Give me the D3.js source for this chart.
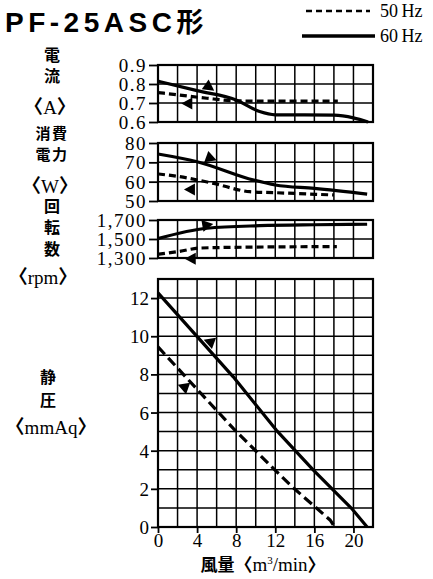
<!DOCTYPE html>
<html><head><meta charset="utf-8">
<script src="https://cdn.jsdelivr.net/npm/d3@7"></script>
<style>
body{margin:0;background:#fff;}
svg{display:block;}
.num{font-family:"Liberation Serif","DejaVu Serif",serif;fill:#000;}
.jp{font-family:"Noto Sans CJK JP",sans-serif;font-weight:700;fill:#000;}
</style></head>
<body>
<script>
// ---------- data ----------
const xTicks = [0,4,8,12,16,20];
const currentTicks = [0.9,0.8,0.7,0.6];
const currentTickLabels = ["0.9","0.8","0.7","0.6"];
const powerTicks = [80,70,60,50];
const rpmTicks = [1700,1500,1300];
const rpmTickLabels = ["1,700","1,500","1,300"];
const pressureTicks = [0,2,4,6,8,10,12];

const current60 = [[0,0.815],[4,0.765],[8,0.716],[10.4,0.655],[12,0.638],[18,0.636],[20,0.622],[21.5,0.6]];
const current50 = [[0,0.755],[2.2,0.742],[5,0.725],[7.7,0.712],[10,0.71],[18.4,0.71]];
const power60 = [[0,74.3],[4,70.3],[9.8,60.8],[12,58.3],[16,56.5],[21.4,53.6]];
const power50 = [[0,64],[2.2,62.6],[5.7,59.1],[9.4,54.8],[12,54.3],[18,53.1]];
const rpm60 = [[0,1505],[5,1613],[10.4,1640],[16,1650],[21.4,1655]];
const rpm50 = [[0,1340],[2.2,1370],[4.3,1405],[10,1415],[18.3,1420]];
const pressure60 = [[0,12.27],[7.7,7.87],[12.1,5.08],[15.9,2.98],[19.8,0.98],[21.4,0]];
const pressure50 = [[0,9.44],[7.7,5.17],[11.8,3.07],[13.9,2.03],[17.6,0.37],[18.1,0]];

// direction markers [x, y, angle in degrees (0 = pointing right)]
const currentArrows = [[5.25,0.783,35],[3.0,0.698,180]];
const powerArrows = [[5.42,72.1,20],[3.27,56.0,180]];
const rpmArrows = [[5.05,1648,-10],[3.35,1293,180]];
const pressureArrows = [[5.25,9.71,200],[2.6,7.35,200]];

// ---------- drawing ----------
const W = 433, H = 579;
const svg = d3.select("body").append("svg").attr("width",W).attr("height",H);

const x = d3.scaleLinear().domain([0,22]).range([158,373]);

const panels = [
  {y:d3.scaleLinear().domain([0.6,0.9]).range([122,65]), ticks:currentTicks, labels:currentTickLabels, grid:[0.7,0.8], s60:current60, s50:current50, arrows:currentArrows, dash:"7,4"},
  {y:d3.scaleLinear().domain([50,80]).range([201,143]), ticks:powerTicks, labels:powerTicks.map(String), grid:[60,70], s60:power60, s50:power50, arrows:powerArrows, dash:"7,4"},
  {y:d3.scaleLinear().domain([1300,1700]).range([258,220]), ticks:rpmTicks, labels:rpmTickLabels, grid:[1500], s60:rpm60, s50:rpm50, arrows:rpmArrows, dash:"7,4"},
  {y:d3.scaleLinear().domain([0,13]).range([527,279]), ticks:pressureTicks, labels:pressureTicks.map(String), grid:d3.range(1,13), s60:pressure60, s50:pressure50, arrows:pressureArrows, dash:"10,5", bottom:true}
];

const vGrid = d3.range(2,22,2);

panels.forEach(p=>{
  const g = svg.append("g");
  const [y0,y1] = p.y.range();
  g.selectAll(".vg").data(vGrid).join("line")
    .attr("x1",d=>x(d)).attr("x2",d=>x(d)).attr("y1",y1).attr("y2",y0)
    .attr("stroke","#000").attr("stroke-width",1.5);
  g.selectAll(".hg").data(p.grid).join("line")
    .attr("x1",x(0)).attr("x2",x(22)).attr("y1",d=>p.y(d)).attr("y2",d=>p.y(d))
    .attr("stroke","#000").attr("stroke-width",1.5);
  g.append("rect").attr("x",x(0)).attr("y",y1).attr("width",x(22)-x(0)).attr("height",y0-y1)
    .attr("fill","none").attr("stroke","#000").attr("stroke-width",2.2);
  const ax = d3.axisLeft(p.y).tickValues(p.ticks).tickFormat((d,i)=>p.labels[i]).tickSize(p.bottom?7:9).tickPadding(2);
  const ag = g.append("g").attr("transform",`translate(${x(0)},0)`).call(ax);
  ag.select(".domain").remove();
  ag.selectAll(".tick line").attr("stroke","#000").attr("stroke-width",1.8);
  ag.selectAll(".tick text").attr("class","num").attr("font-size",19).attr("letter-spacing",p.bottom?0:1.5)
    .attr("dy","0.34em").attr("fill","#000");
  const line = d3.line().x(d=>x(d[0])).y(d=>p.y(d[1])).curve(p.bottom?d3.curveLinear:d3.curveMonotoneX);
  g.append("path").attr("d",line(p.s60)).attr("fill","none").attr("stroke","#000").attr("stroke-width",3.2).attr("stroke-linejoin","round");
  g.append("path").attr("d",line(p.s50)).attr("fill","none").attr("stroke","#000").attr("stroke-width",3.2).attr("stroke-dasharray",p.dash);
  g.selectAll(".ar").data(p.arrows).join("path")
    .attr("d","M6,0 L-5,-6 L-5,6 Z")
    .attr("transform",d=>`translate(${x(d[0])},${p.y(d[1])}) rotate(${d[2]})`)
    .attr("fill","#000");
  if(p.bottom){
    const xa = d3.axisBottom(x).tickValues(xTicks).tickSize(6).tickPadding(1);
    const xg = g.append("g").attr("transform",`translate(0,${y0})`).call(xa);
    xg.select(".domain").remove();
    xg.selectAll(".tick line").attr("stroke","#000").attr("stroke-width",1.8);
    xg.selectAll(".tick text").attr("class","num").attr("font-size",19).attr("fill","#000");
  }
});

// helper: text with CJK brackets drawn in the CJK font
function addRuns(textSel, str, numSize, jpSize){
  const runs = [];
  for(const ch of str){
    const jp = /[〈〉\u3040-\u9fff]/.test(ch);
    const last = runs[runs.length-1];
    if(last && last.jp===jp) last.t += ch; else runs.push({jp, t:ch});
  }
  runs.forEach(r=>{
    textSel.append("tspan").attr("class",r.jp?"jp":"num").attr("font-size",r.jp?jpSize:numSize)
      .attr("font-weight",r.jp?(/[〈〉]/.test(r.t)?400:700):null).text(r.t);
  });
}

// x-axis title
const xt = svg.append("text").attr("x",263).attr("y",571).attr("text-anchor","middle");
xt.append("tspan").attr("class","jp").attr("font-size",17).text("風量");
xt.append("tspan").attr("class","jp").attr("font-weight",400).attr("font-size",18).text("〈");
xt.append("tspan").attr("class","num").attr("font-size",19).text("m");
xt.append("tspan").attr("class","num").attr("font-size",11).attr("dy",-7).text("3");
xt.append("tspan").attr("class","num").attr("font-size",19).attr("dy",7).text("/min");
xt.append("tspan").attr("class","jp").attr("font-weight",400).attr("font-size",18).text("〉");

// left labels: vertical stacks
const verticalLabels = [["電流",52,67.5,5],["回転数",52,230,5.5],["静圧",48,391.5,7]];
verticalLabels.forEach(([t,xx,yy,ls])=>{
  svg.append("text").attr("class","jp").attr("x",xx).attr("y",yy)
    .attr("writing-mode","vertical-rl").attr("text-anchor","middle")
    .attr("font-size",16).attr("letter-spacing",ls).text(t);
});
// horizontal rows and unit labels
const rowLabels = [["消費",52,134],["電力",52,155]];
rowLabels.forEach(([t,xx,yy])=>{
  svg.append("text").attr("class","jp").attr("x",xx).attr("y",yy).attr("dy","0.36em")
    .attr("text-anchor","middle").attr("font-size",15).attr("letter-spacing",1.5).text(t);
});
const unitLabels = [["〈A〉",50,108],["〈W〉",50,187],["〈rpm〉",43,278],["〈mmAq〉",51,428]];
unitLabels.forEach(([t,xx,yy])=>{
  const te = svg.append("text").attr("x",xx).attr("y",yy).attr("dy","0.36em").attr("text-anchor","middle");
  addRuns(te,t,19,19);
});

// title
const tt = svg.append("text").attr("x",5).attr("y",32);
tt.append("tspan").attr("font-family","'Liberation Sans',Arial,sans-serif").attr("font-weight",700).attr("font-size",28).attr("letter-spacing",4.5).text("PF-25ASC");
tt.append("tspan").attr("class","jp").attr("font-size",27).text("形");

// legend
const legend = [["50 Hz",11,true],["60 Hz",36,false]];
legend.forEach(([lab,yy,dashed])=>{
  svg.append("line").attr("x1",dashed?306:302).attr("x2",dashed?370:375).attr("y1",yy).attr("y2",yy)
    .attr("stroke","#000").attr("stroke-width",dashed?2.5:3.5).attr("stroke-dasharray",dashed?"6,4":null);
  svg.append("text").attr("class","num").attr("x",380).attr("y",yy).attr("dy","0.35em").attr("font-size",18).text(lab.replace(" ","\u2009"));
});
</script>
</body></html>
